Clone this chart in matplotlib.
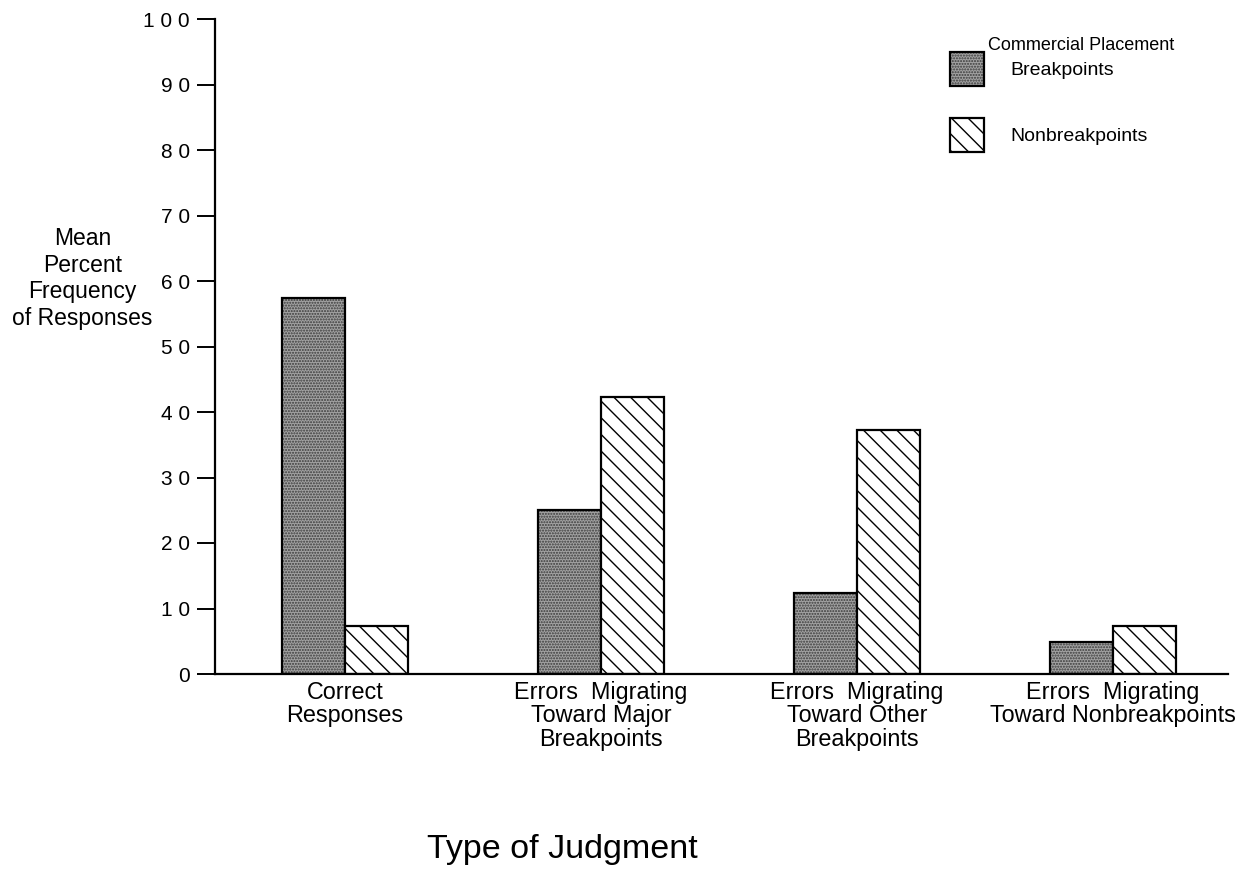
import matplotlib.pyplot as plt
import numpy as np

plt.rcParams['font.family'] = ['Liberation Sans', 'DejaVu Sans']

categories = ["Correct\nResponses",
              "Errors  Migrating\nToward Major\nBreakpoints",
              "Errors  Migrating\nToward Other\nBreakpoints",
              "Errors  Migrating\nToward Nonbreakpoints"]
breakpoints = [57.4, 25.0, 12.4, 4.9]
nonbreakpoints = [7.3, 42.3, 37.3, 7.4]
yticks = [0, 10, 20, 30, 40, 50, 60, 70, 80, 90, 100]
ytick_labels = ["0", "1 0", "2 0", "3 0", "4 0", "5 0", "6 0", "7 0", "8 0", "9 0", "1 0 0"]

fig = plt.figure(figsize=(12.53, 8.81), dpi=100)
ax = fig.add_axes([215/1253, 1 - 674/881, 1013/1253, 655/881])

x = np.arange(len(categories))
w = 0.246

# stippled breakpoint bars: gray dots + black outline on top
bp_fill = ax.bar(x - w/2, breakpoints, w, facecolor="#a2a2a2", edgecolor="#3a3a3a",
                 hatch="......", linewidth=0)
bp_edge = ax.bar(x - w/2, breakpoints, w, fill=False, edgecolor="black", linewidth=1.6)
nb = ax.bar(x + w/2, nonbreakpoints, w, facecolor="white", edgecolor="black",
            hatch="\\\\", linewidth=1.6)

ax.set_xlim(-0.508, 3.45)
ax.set_ylim(0, 100)
ax.spines["top"].set_visible(False)
ax.spines["right"].set_visible(False)
ax.spines["left"].set_linewidth(1.6)
ax.spines["bottom"].set_linewidth(1.6)

ax.set_yticks(yticks)
ax.set_yticklabels(ytick_labels, fontsize=15)
ax.tick_params(axis="y", length=13, width=1.4, pad=5)
ax.set_xticks(x)
ax.set_xticklabels(categories, fontsize=16.8, linespacing=1.03)
ax.tick_params(axis="x", length=0, pad=5)

ax.set_ylabel("Mean\nPercent\nFrequency\nof Responses", rotation=0, fontsize=16.5,
              ha="center", va="center", multialignment="center", linespacing=1.2)
ax.yaxis.set_label_coords(-0.131, 0.604)
ax.set_xlabel("Type of Judgment", fontsize=24.5)
ax.xaxis.set_label_coords(0.3425, -0.244)

leg = fig.legend([(bp_fill[0], bp_edge[0]), nb[0]], ["Breakpoints", "Nonbreakpoints"],
                 loc="upper left", bbox_to_anchor=(950/1253, 1 - 52/881),
                 frameon=False, fontsize=14, handlelength=1.75, handleheight=2.35,
                 labelspacing=1.62, handletextpad=1.35, borderpad=0, borderaxespad=0)
fig.text(1081/1253, 1 - 45/881, "Commercial Placement", fontsize=13,
         ha="center", va="center")

fig.savefig("out.png", dpi=100, facecolor="white")
